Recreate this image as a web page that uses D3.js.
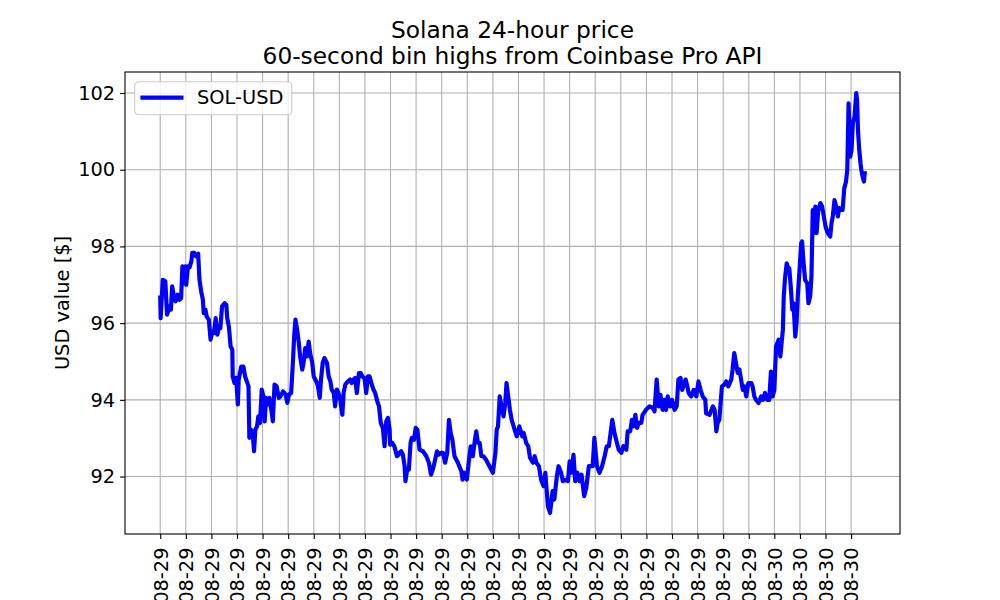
<!DOCTYPE html>
<meta charset="utf-8">
<style>
body { margin: 0; background: #fff; }
svg { font-family: "DejaVu Sans", sans-serif; }
</style>
<svg width="1000" height="600"></svg>
<script src="https://d3js.org/d3.v7.min.js"></script>
<script>

// SOL-USD 60-second bin highs
// minutes after 2021-08-29 00:00 UTC, and the price at that minute
var startTime = new Date("2021-08-29T00:00:00Z")

var minutes = [
  0, 1, 6, 12, 16, 22, 25, 28, 32, 36, 41, 45, 49, 52, 55, 59, 61, 65, 69, 73,
  75, 80, 84, 89, 92, 96, 100, 102, 106, 109, 114, 118, 122, 126, 130, 134, 138, 141, 145, 151,
  155, 157, 161, 165, 169, 170, 174, 178, 182, 184, 190, 195, 199, 203, 207, 209, 213, 217, 220, 223,
  227, 230, 234, 238, 242, 245, 248, 252, 256, 261, 264, 268, 273, 278,
  282, 288, 294, 298, 302, 307, 311, 314, 317, 321, 325, 328, 333, 336, 340, 344, 348, 352, 356, 360,
  366, 370, 374, 377, 381, 385, 391, 395, 399, 402, 407, 410, 414, 418, 422, 427, 430, 434, 440, 445,
  449, 453, 457, 461, 466, 470, 474, 479, 483, 487, 491, 496, 500, 504, 509, 513, 517, 522, 526, 530,
  534, 538, 539, 544, 549, 555, 559,
  561, 565, 569, 573, 575, 579, 583, 587, 590, 595, 599, 603, 608, 616, 624, 630, 635, 639, 643, 649,
  653, 659, 663, 668, 673, 677, 681, 685, 690, 698, 706, 709, 713, 719, 724, 728, 733, 737, 741, 745,
  749, 753, 758, 764, 772, 780, 786, 789, 792, 796, 802, 805, 809, 812, 817, 820, 824, 831, 836, 842,
  849, 852, 858, 863, 867, 874, 878, 882, 888, 893, 899, 903, 909, 914, 920, 924, 930, 934, 940, 944,
  952, 956, 960, 964, 969, 973, 978, 983, 988, 994, 999, 1005, 1014, 1018, 1024, 1030, 1036, 1042, 1047, 1052,
  1060, 1065, 1069, 1075, 1081, 1086, 1093, 1096,
  1102, 1106, 1110, 1114, 1118, 1122, 1128, 1131, 1139, 1147, 1155, 1159, 1164, 1169, 1173, 1178, 1182, 1186, 1190, 1196,
  1200, 1206, 1211, 1215, 1220, 1224, 1228, 1232, 1236, 1239, 1245, 1251, 1257, 1262, 1267, 1272, 1278, 1280, 1288, 1296,
  1300, 1304, 1307, 1311, 1317, 1323, 1327, 1332, 1339, 1342, 1346, 1350, 1354, 1358, 1362, 1366, 1370, 1374, 1379, 1386,
  1389, 1393, 1397, 1403, 1409, 1413, 1418, 1423, 1428, 1432, 1436, 1440, 1444, 1450, 1454, 1457,
  1460, 1462, 1465, 1469, 1473, 1475, 1479, 1482, 1485, 1489, 1492, 1495, 1499, 1503, 1505, 1508, 1512, 1517, 1520, 1524,
  1527, 1530, 1534, 1536, 1539, 1543, 1548, 1552, 1556, 1560, 1565, 1571, 1574, 1577, 1581, 1585, 1589, 1592, 1596, 1600,
  1604, 1608, 1611, 1614, 1616, 1618, 1621, 1624, 1628, 1632, 1634, 1636, 1639, 1642, 1644, 1647, 1650, 1652
]

var prices = [
  96.67, 96.13, 97.13, 97.09, 96.22, 96.44, 96.35, 96.96, 96.70, 96.57, 96.74, 96.61, 96.65, 97.48, 97.04, 97.48, 97.00, 97.48, 97.46, 97.61,
  97.83, 97.83, 97.74, 97.81, 97.13, 96.83, 96.61, 96.26, 96.35, 96.17, 96.09, 95.57, 95.78, 95.74, 96.13, 95.70, 95.91, 95.87, 96.44, 96.52,
  96.48, 96.13, 95.91, 95.39, 95.31, 94.61, 94.44, 94.57, 93.88, 94.53, 94.87, 94.87, 94.61, 94.48, 94.35, 93.01, 93.22, 93.09, 92.66, 93.22,
  93.31, 93.57, 93.40, 94.27, 94.09, 93.44, 94.05, 93.88, 94.05, 93.70, 93.44, 94.40, 94.35, 94.05,
  94.09, 94.22, 94.14, 93.92, 94.14, 94.18, 94.96, 95.65, 96.09, 95.83, 95.48, 95.13, 94.79, 94.96, 95.35, 95.13, 95.52, 95.18, 95.00, 94.61,
  94.48, 94.35, 94.05, 94.53, 94.96, 95.09, 94.96, 94.61, 94.48, 94.27, 94.18, 93.83, 94.27, 94.18, 94.01, 93.61, 94.18, 94.40, 94.48, 94.53,
  94.44, 94.53, 94.57, 94.18, 94.70, 94.70, 94.61, 94.57, 94.18, 94.61, 94.61, 94.40, 94.27, 94.18, 93.96, 93.83, 93.40, 93.27, 92.79, 93.44,
  93.53, 93.22, 92.83, 92.88, 92.79, 92.53, 92.57,
  92.62, 92.66, 92.57, 92.27, 91.88, 92.18, 92.18, 92.88, 93.01, 92.96, 93.27, 93.22, 92.70, 92.66, 92.53, 92.36, 92.05, 92.18, 92.36, 92.66,
  92.57, 92.62, 92.62, 92.36, 92.62, 93.48, 93.14, 92.96, 92.53, 92.36, 92.14, 91.92, 92.10, 91.92, 92.44, 92.79, 92.53, 92.88, 93.18, 92.88,
  92.88, 92.53, 92.53, 92.44, 92.27, 92.10, 92.62, 93.22, 93.31, 94.09, 93.74, 93.57, 93.92, 94.44, 94.00, 93.74, 93.48, 93.22, 93.05, 93.31,
  93.05, 93.14, 92.88, 92.79, 92.49, 92.36, 92.53, 92.36, 92.27, 91.92, 91.75, 92.10, 91.23, 91.05, 91.62, 91.40, 92.01, 92.27, 92.10, 91.88,
  91.92, 91.88, 92.40, 92.10, 92.57, 91.88, 92.10, 91.88, 92.05, 91.49, 91.71, 92.27, 92.27, 93.01, 92.27, 92.10, 92.27, 92.53, 92.79, 92.79,
  93.48, 93.14, 92.96, 92.70, 92.62, 92.79, 92.70, 93.18,
  93.18, 93.48, 93.31, 93.61, 93.27, 93.40, 93.40, 93.61, 93.74, 93.83, 93.79, 93.70, 94.53, 93.83, 94.13, 93.74, 94.00, 93.74, 94.09, 93.83,
  94.00, 93.74, 93.83, 94.53, 94.57, 94.26, 94.40, 94.53, 94.35, 94.18, 94.09, 94.26, 94.09, 94.48, 94.26, 94.09, 94.00, 93.65, 93.61, 93.83,
  93.74, 93.18, 93.40, 93.48, 94.35, 94.40, 94.48, 94.35, 94.53, 94.79, 95.22, 94.96, 94.70, 94.79, 94.53, 94.26, 94.35, 94.09, 94.44, 94.44,
  94.35, 94.09, 94.00, 93.92, 94.09, 94.00, 94.18, 94.00, 94.00, 94.74, 94.09, 94.26, 95.39, 95.57, 95.13, 95.48,
  95.83, 96.70, 97.17, 97.56, 97.39, 97.43, 96.87, 96.35, 96.52, 95.65, 96.00, 96.70, 97.39, 98.09, 98.13, 97.65, 97.13, 97.04, 96.52, 96.70,
  97.22, 98.95, 98.35, 99.04, 98.35, 98.95, 99.13, 99.04, 98.78, 98.52, 98.35, 98.26, 98.61, 98.78, 99.21, 99.04, 98.78, 99.00, 98.95, 98.95,
  99.52, 99.69, 99.99, 101.73, 101.12, 100.34, 100.52, 101.21, 101.38, 102.00, 101.82, 101.04, 100.52, 100.17, 99.99, 99.82, 99.69, 99.91
]

var seriesName = "SOL-USD"
var titleLines = ["Solana 24-hour price", "60-second bin highs from Coinbase Pro API"]
var yLabel = "USD value [$]"
var yTicks = [92, 94, 96, 98, 100, 102]

var svg = d3.select("svg"),
    margin = {top: 72, right: 100, bottom: 66, left: 125},
    width = +svg.attr("width") - margin.left - margin.right,
    height = +svg.attr("height") - margin.top - margin.bottom

var data = minutes.map(function(m, i) {
  return {date: new Date(startTime.getTime() + m * 60000), price: prices[i]}
})

// matplotlib style 5% margins
var xExt = d3.extent(data, function(d) { return d.date.getTime() }),
    xPad = (xExt[1] - xExt[0]) * 0.05,
    yExt = d3.extent(data, function(d) { return d.price }),
    yPad = (yExt[1] - yExt[0]) * 0.05

var x = d3.scaleUtc().domain([new Date(xExt[0] - xPad), new Date(xExt[1] + xPad)]).range([0, width]),
    y = d3.scaleLinear().domain([yExt[0] - yPad, yExt[1] + yPad]).range([height, 0])

var xTicks = d3.utcHour.range(startTime, new Date(xExt[1]))

var g = svg.append("g").attr("transform", "translate(" + margin.left + "," + margin.top + ")")

// grid
g.append("g").selectAll("line")
  .data(xTicks)
  .enter().append("line")
  .attr("x1", function(d) { return x(d) }).attr("x2", function(d) { return x(d) })
  .attr("y1", 0).attr("y2", height)
  .attr("stroke", "#b0b0b0").attr("stroke-width", 1.1)

g.append("g").selectAll("line")
  .data(yTicks)
  .enter().append("line")
  .attr("x1", 0).attr("x2", width)
  .attr("y1", function(d) { return y(d) }).attr("y2", function(d) { return y(d) })
  .attr("stroke", "#b0b0b0").attr("stroke-width", 1.1)

// price line
var line = d3.line()
  .x(function(d) { return x(d.date) })
  .y(function(d) { return y(d.price) })

g.append("path")
  .datum(data)
  .attr("fill", "none")
  .attr("stroke", "#0000ff")
  .attr("stroke-width", 4.17)
  .attr("stroke-linejoin", "round")
  .attr("stroke-linecap", "square")
  .attr("d", line)

// axes
var xAxis = g.append("g")
  .attr("transform", "translate(0," + height + ")")
  .call(d3.axisBottom(x).tickValues(xTicks).tickSize(4.9).tickFormat(d3.utcFormat("%Y-%m-%d")))

xAxis.selectAll("text")
  .attr("transform", "rotate(-90)")
  .attr("x", -13.5)
  .attr("y", 0)
  .attr("dy", "0.35em")
  .style("text-anchor", "end")

var yAxis = g.append("g")
  .call(d3.axisLeft(y).tickValues(yTicks).tickSize(4.9).tickPadding(4.9))

svg.selectAll(".domain").remove()
svg.selectAll(".tick line").attr("stroke", "#000").attr("stroke-width", 1.1)
svg.selectAll(".tick text").attr("fill", "#000").style("font-size", "19.4px").style("font-family", "DejaVu Sans")

// spines
g.append("rect")
  .attr("width", width).attr("height", height)
  .attr("fill", "none").attr("stroke", "#000").attr("stroke-width", 1.1)

// title
svg.append("text")
  .attr("text-anchor", "middle")
  .style("font-size", "23.3px")
  .selectAll("tspan")
  .data(titleLines)
  .enter().append("tspan")
  .attr("x", margin.left + width / 2)
  .attr("y", function(d, i) { return 38 + i * 26 })
  .text(function(d) { return d })

// y label
svg.append("text")
  .attr("transform", "translate(69," + (margin.top + height / 2) + ") rotate(-90)")
  .attr("text-anchor", "middle")
  .style("font-size", "19.4px")
  .text(yLabel)

// legend
var legend = g.append("g").attr("transform", "translate(9.7,9.7)")

legend.append("rect")
  .attr("width", 157).attr("height", 33).attr("rx", 3.9)
  .attr("fill", "#fff").attr("fill-opacity", 0.8)
  .attr("stroke", "#cccccc").attr("stroke-width", 1.1)

legend.append("line")
  .attr("x1", 7.8).attr("x2", 46.7)
  .attr("y1", 16).attr("y2", 16)
  .attr("stroke", "#0000ff").attr("stroke-width", 4.17).attr("stroke-linecap", "square")

legend.append("text")
  .attr("x", 62.3).attr("y", 16).attr("dy", "0.35em")
  .style("font-size", "19.4px")
  .text(seriesName)

</script>
</html>
